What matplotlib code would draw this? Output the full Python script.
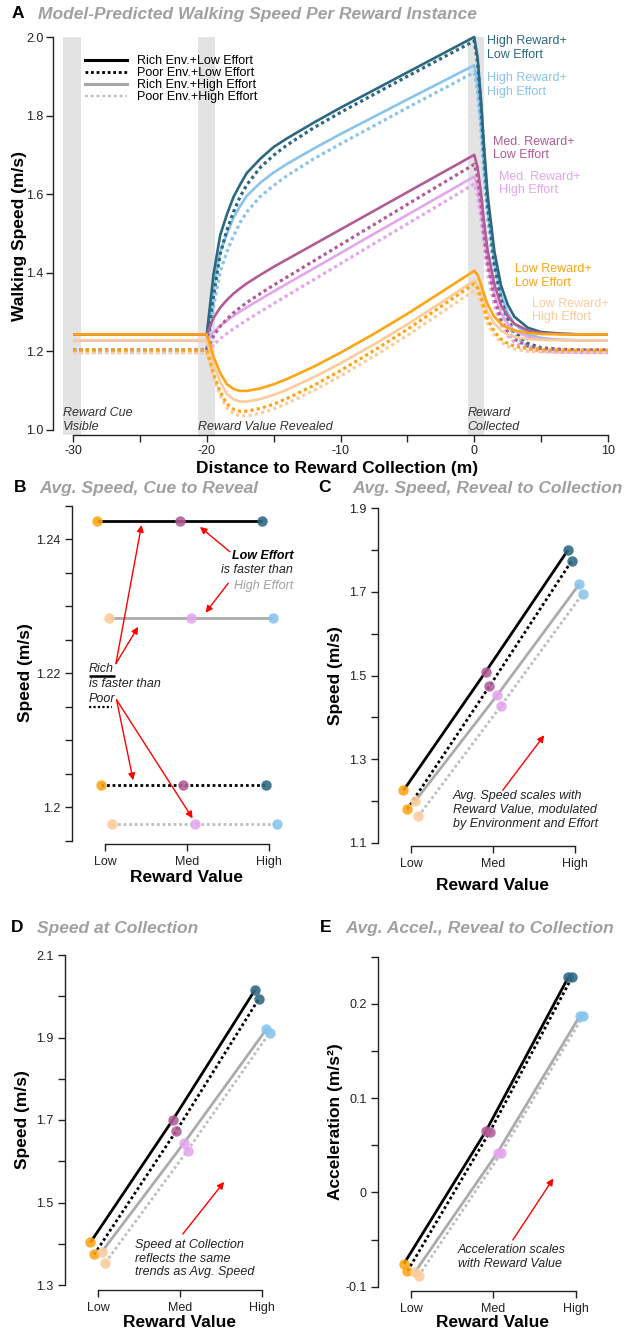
import matplotlib
matplotlib.use('Agg')
import matplotlib.pyplot as plt
from matplotlib.lines import Line2D
import numpy as np

plt.rcParams['font.family'] = ['Liberation Sans', 'DejaVu Sans']

# ---------------- data ----------------
# Panel A: model-predicted walking speed (m/s) vs distance to reward collection (m)
distance = [-30, -20, -19.5, -19, -18.5, -18, -17.5, -17, -16, -15, -14, -12, -10, -7.5, -5, -2.5, 0,
            0.25, 0.5, 0.75, 1, 1.5, 2, 2.5, 3, 4, 5, 6.5, 8, 10]

high_rich_low = [1.243, 1.243, 1.395, 1.495, 1.548, 1.593, 1.625, 1.654, 1.690, 1.720, 1.742, 1.782, 1.820, 1.865, 1.910, 1.955, 2.000,
                 1.947, 1.841, 1.712, 1.599, 1.455, 1.368, 1.319, 1.288, 1.260, 1.249, 1.245, 1.243, 1.243]
high_poor_low = [1.203, 1.203, 1.340, 1.447, 1.508, 1.555, 1.594, 1.624, 1.668, 1.699, 1.725, 1.769, 1.808, 1.854, 1.900, 1.945, 1.990,
                 1.935, 1.825, 1.691, 1.573, 1.423, 1.333, 1.282, 1.250, 1.220, 1.209, 1.205, 1.203, 1.203]
high_rich_high = [1.228, 1.228, 1.363, 1.452, 1.499, 1.540, 1.570, 1.596, 1.629, 1.655, 1.677, 1.716, 1.753, 1.797, 1.841, 1.8845, 1.928,
                  1.879, 1.781, 1.662, 1.557, 1.424, 1.344, 1.298, 1.270, 1.243, 1.234, 1.229, 1.228, 1.228]
high_poor_high = [1.197, 1.197, 1.312, 1.402, 1.453, 1.494, 1.528, 1.555, 1.594, 1.622, 1.647, 1.690, 1.728, 1.774, 1.820, 1.865, 1.910,
                  1.860, 1.760, 1.639, 1.532, 1.397, 1.315, 1.268, 1.240, 1.213, 1.203, 1.198, 1.197, 1.197]
med_rich_low = [1.243, 1.243, 1.2845, 1.311, 1.3305, 1.347, 1.3605, 1.373, 1.3945, 1.415, 1.434, 1.472, 1.510, 1.5575, 1.605, 1.6525, 1.700,
                1.668, 1.604, 1.526, 1.458, 1.371, 1.318, 1.289, 1.270, 1.253, 1.247, 1.244, 1.243, 1.243]
med_poor_low = [1.203, 1.203, 1.239, 1.2635, 1.282, 1.298, 1.3116, 1.3242, 1.3468, 1.3685, 1.389, 1.430, 1.471, 1.5225, 1.574, 1.625, 1.676,
                1.643, 1.577, 1.496, 1.425, 1.335, 1.281, 1.250, 1.231, 1.213, 1.207, 1.204, 1.203, 1.203]
med_rich_high = [1.228, 1.228, 1.249, 1.2648, 1.2781, 1.2902, 1.3014, 1.3121, 1.3325, 1.3525, 1.372, 1.411, 1.450, 1.499, 1.5475, 1.596, 1.645,
                 1.616, 1.557, 1.487, 1.424, 1.345, 1.297, 1.270, 1.253, 1.237, 1.231, 1.229, 1.228, 1.228]
med_poor_high = [1.197, 1.197, 1.2169, 1.232, 1.2452, 1.2574, 1.2687, 1.2797, 1.3007, 1.3215, 1.3418, 1.3824, 1.423, 1.474, 1.5245, 1.575, 1.626,
                 1.596, 1.536, 1.463, 1.399, 1.317, 1.268, 1.240, 1.223, 1.206, 1.200, 1.198, 1.197, 1.197]
low_rich_low = [1.243, 1.243, 1.1868, 1.1446, 1.1164, 1.1042, 1.099, 1.0992, 1.1055, 1.116, 1.1295, 1.161, 1.1965, 1.2445, 1.2955, 1.350, 1.405,
                1.394, 1.371, 1.343, 1.319, 1.288, 1.270, 1.259, 1.253, 1.247, 1.244, 1.243, 1.243, 1.243]
low_poor_low = [1.203, 1.203, 1.1423, 1.0967, 1.0662, 1.0528, 1.0471, 1.0478, 1.0545, 1.0656, 1.0799, 1.1133, 1.1509, 1.2018, 1.2559, 1.3137, 1.372,
                1.360, 1.337, 1.308, 1.282, 1.250, 1.231, 1.220, 1.213, 1.207, 1.204, 1.203, 1.203, 1.203]
low_rich_high = [1.228, 1.228, 1.1675, 1.122, 1.0914, 1.0779, 1.0718, 1.0721, 1.0785, 1.089, 1.1025, 1.134, 1.1695, 1.2175, 1.2685, 1.3235, 1.380,
                 1.369, 1.348, 1.322, 1.299, 1.271, 1.253, 1.243, 1.237, 1.231, 1.229, 1.228, 1.228, 1.228]
low_poor_high = [1.197, 1.197, 1.1345, 1.0874, 1.0557, 1.0417, 1.0355, 1.0358, 1.0424, 1.0534, 1.0675, 1.1004, 1.1375, 1.1876, 1.2408, 1.2977, 1.355,
                 1.344, 1.322, 1.295, 1.271, 1.241, 1.223, 1.213, 1.206, 1.200, 1.198, 1.197, 1.197, 1.197]

conditions = ['Rich Env.+Low Effort', 'Poor Env.+Low Effort',
              'Rich Env.+High Effort', 'Poor Env.+High Effort']
reward_labels = ['Low', 'Med', 'High']

# Panel B: avg speed, cue to reveal (m/s)
b_rich_low = [1.2427, 1.2427, 1.2427]
b_poor_low = [1.2033, 1.2033, 1.2033]
b_rich_high = [1.2282, 1.2282, 1.2282]
b_poor_high = [1.1975, 1.1975, 1.1975]
# Panel C: avg speed, reveal to collection (m/s)
c_rich_low = [1.225, 1.509, 1.800]
c_poor_low = [1.180, 1.474, 1.774]
c_rich_high = [1.199, 1.453, 1.719]
c_poor_high = [1.163, 1.426, 1.696]
# Panel D: speed at collection (m/s)
d_rich_low = [1.4035, 1.700, 2.015]
d_poor_low = [1.374, 1.674, 1.993]
d_rich_high = [1.381, 1.645, 1.920]
d_poor_high = [1.354, 1.626, 1.912]
# Panel E: avg acceleration, reveal to collection (m/s^2)
e_rich_low = [-0.0759, 0.0652, 0.228]
e_poor_low = [-0.0833, 0.0641, 0.228]
e_rich_high = [-0.084, 0.0423, 0.187]
e_poor_high = [-0.0886, 0.0413, 0.187]

# ---------------- style ----------------
C_LOW, C_LOW_H = '#FDA512', '#FDCB9C'
C_MED, C_MED_H = '#B25C96', '#E3A6EC'
C_HIGH, C_HIGH_H = '#2D6881', '#88C4EC'
TITLE_GRAY = '#A0A0A0'
AX_COL = '#222222'
DOT = (0, (1, 1))

W, H = 626, 1340
fig = plt.figure(figsize=(W / 100, H / 100), dpi=100)


def px_rect(l, t, r, b):
    return [l / W, 1 - b / H, (r - l) / W, (b - t) / H]


def style_axes(ax, pad=3.5):
    for s in ['top', 'right']:
        ax.spines[s].set_visible(False)
    for s in ['left', 'bottom']:
        ax.spines[s].set_color(AX_COL)
        ax.spines[s].set_linewidth(1.0)
    ax.tick_params(which='both', direction='out', length=5, width=1.0,
                   color=AX_COL, labelsize=9, labelcolor=AX_COL, pad=pad)


def panel_title(xl, xt, y, letter, text):
    fig.text(xl / W, 1 - y / H, letter, fontsize=12.5, fontweight='bold',
             va='center', ha='left', color='black')
    fig.text(xt / W, 1 - y / H, text, fontsize=12.5, fontweight='bold',
             style='italic', va='center', ha='left', color=TITLE_GRAY)


# ---------------- Panel A ----------------
axA = fig.add_axes(px_rect(63, 37, 608, 435))
style_axes(axA, pad=2.2)
axA.set_xlim(-30.75, 10)
axA.set_ylim(0.987, 2.0)
for lo, hi in [(-30.75, -29.4), (-20.63, -19.38), (-0.5, 0.7)]:
    axA.axvspan(lo, hi, color='#E3E3E3', lw=0, zorder=0)

curves = [
    (high_poor_high, C_HIGH_H, DOT), (high_rich_high, C_HIGH_H, '-'),
    (high_poor_low, C_HIGH, DOT), (high_rich_low, C_HIGH, '-'),
    (med_poor_high, C_MED_H, DOT), (med_rich_high, C_MED_H, '-'),
    (med_poor_low, C_MED, DOT), (med_rich_low, C_MED, '-'),
    (low_poor_high, C_LOW_H, DOT), (low_rich_high, C_LOW_H, '-'),
    (low_poor_low, C_LOW, DOT), (low_rich_low, C_LOW, '-'),
]
for vals, col, ls in curves:
    lw = 1.9 if ls == '-' else 2.3
    axA.plot(distance, vals, color=col, ls=ls, lw=lw, clip_on=False,
             solid_capstyle='butt', solid_joinstyle='round', zorder=2)

axA.spines['left'].set_position(('outward', 7))
axA.spines['left'].set_bounds(1.0, 2.0)
axA.spines['bottom'].set_bounds(-30, 10)
axA.set_yticks([1.0, 1.2, 1.4, 1.6, 1.8, 2.0])
axA.set_yticklabels(['1.0', '1.2', '1.4', '1.6', '1.8', '2.0'])
axA.set_xticks([-30, -20, -10, 0, 10])
axA.set_xticklabels(['-30', '-20', '-10', '0', '10'])
axA.set_xticks([-25, -15, -5, 5], minor=True)
axA.set_xlabel('Distance to Reward Collection (m)', fontsize=12.5, fontweight='bold')
axA.set_ylabel('Walking Speed (m/s)', fontsize=12.5, fontweight='bold')
axA.xaxis.set_label_coords(0.503, -0.066)
axA.yaxis.set_label_coords(-0.066, 0.5)

leg_handles = [Line2D([], [], color='black', lw=2.2, ls='-'),
               Line2D([], [], color='black', lw=2.0, ls=DOT),
               Line2D([], [], color='#A5A5A5', lw=2.2, ls='-'),
               Line2D([], [], color='#BDBDBD', lw=1.6, ls=(0, (1.3, 1.3)))]
axA.legend(leg_handles, conditions, loc='upper left', bbox_to_anchor=(0.040, 0.955),
           frameon=False, fontsize=9, handlelength=3.4, handletextpad=0.8,
           labelspacing=0.0, borderpad=0, borderaxespad=0)

ital = dict(fontsize=9, style='italic', color='#333333', linespacing=1.15)
axA.text(-30.75, 0.993, 'Reward Cue\nVisible', ha='left', va='bottom', **ital)
axA.text(-20.63, 0.993, 'Reward Value Revealed', ha='left', va='bottom', **ital)
axA.text(-0.5, 0.993, 'Reward\nCollected', ha='left', va='bottom', **ital)

lab = dict(fontsize=9, ha='left', va='center', linespacing=1.2)
axA.text(0.95, 1.971, 'High Reward+\nLow Effort', color=C_HIGH, **lab)
axA.text(0.95, 1.877, 'High Reward+\nHigh Effort', color=C_HIGH_H, **lab)
axA.text(1.4, 1.716, 'Med. Reward+\nLow Effort', color=C_MED, **lab)
axA.text(1.85, 1.627, 'Med. Reward+\nHigh Effort', color=C_MED_H, **lab)
axA.text(3.05, 1.392, 'Low Reward+\nLow Effort', color=C_LOW, **lab)
axA.text(4.3, 1.304, 'Low Reward+\nHigh Effort', color=C_LOW_H, **lab)

panel_title(12, 38, 14, 'A', 'Model-Predicted Walking Speed Per Reward Instance')

# ---------------- scatter panels ----------------
offsets = [-0.09, -0.045, 0.05, 0.09]
line_styles = [('black', '-'), ('black', DOT), ('#ABABAB', '-'), ('#BEBEBE', DOT)]
marker_cols = [[C_LOW, C_MED, C_HIGH], [C_LOW, C_MED, C_HIGH],
               [C_LOW_H, C_MED_H, C_HIGH_H], [C_LOW_H, C_MED_H, C_HIGH_H]]


def scatter_panel(rect, series, ylim, majors, major_labels, minors, bottom_off,
                  ylabel, xlab_y):
    ax = fig.add_axes(px_rect(*rect))
    style_axes(ax)
    ax.set_xlim(-0.4, 2.3)
    ax.set_ylim(*ylim)
    for i, vals in enumerate(series):
        xs = np.arange(3) + offsets[i]
        col, ls = line_styles[i]
        ax.plot(xs, vals, color=col, ls=ls, lw=2.0, zorder=2, solid_capstyle='butt')
        for j in range(3):
            ax.plot(xs[j], vals[j], 'o', ms=7.5, mew=0, color=marker_cols[i][j],
                    alpha=0.88, zorder=3, clip_on=False)
    ax.spines['bottom'].set_position(('outward', bottom_off))
    ax.spines['bottom'].set_bounds(0, 2)
    ax.spines['left'].set_bounds(*ylim)
    ax.set_xticks([0, 1, 2])
    ax.set_xticklabels(reward_labels)
    ax.set_yticks(majors)
    ax.set_yticklabels(major_labels)
    ax.set_yticks(minors, minor=True)
    ax.set_xlabel('Reward Value', fontsize=12.5, fontweight='bold')
    ax.set_ylabel(ylabel, fontsize=12.5, fontweight='bold')
    ax.yaxis.set_label_coords(-0.16, 0.5)
    ax.xaxis.set_label_coords(0.515, xlab_y)
    return ax


# Panel B
axB = scatter_panel((72, 505.5, 294, 840.5), [b_rich_low, b_poor_low, b_rich_high, b_poor_high],
                    (1.195, 1.245), [1.20, 1.22, 1.24], ['1.2', '1.22', '1.24'],
                    [1.195, 1.205, 1.21, 1.215, 1.225, 1.23, 1.235, 1.245], 2.5,
                    'Speed (m/s)', -0.088)
axB.yaxis.set_label_coords(-0.176, 0.5)
panel_title(14, 39, 488, 'B', 'Avg. Speed, Cue to Reveal')

arrow = dict(arrowstyle='-|>', color='#FF0000', lw=1.0, mutation_scale=10,
             shrinkA=0, shrinkB=0)
axB.text(2.29, 1.2375, 'Low Effort', ha='right', va='center', fontsize=9,
         style='italic', fontweight='bold', color='black')
axB.text(2.29, 1.2353, 'is faster than', ha='right', va='center', fontsize=9,
         style='italic', color='#222222')
axB.text(2.29, 1.2330, 'High Effort', ha='right', va='center', fontsize=9,
         style='italic', color='#A0A0A0')
axB.annotate('', xy=(1.156, 1.2418), xytext=(1.52, 1.2381), arrowprops=arrow)
axB.annotate('', xy=(1.225, 1.2290), xytext=(1.50, 1.2334), arrowprops=arrow)
axB.text(-0.198, 1.2206, 'Rich', ha='left', va='center', fontsize=9, style='italic', color='#222222')
axB.text(-0.198, 1.2184, 'is faster than', ha='left', va='center', fontsize=9, style='italic', color='#222222')
axB.text(-0.198, 1.2161, 'Poor', ha='left', va='center', fontsize=9, style='italic', color='#222222')
axB.plot([-0.198, 0.12], [1.2196, 1.2196], color='black', lw=1.8, solid_capstyle='butt')
axB.plot([-0.198, 0.09], [1.2150, 1.2150], color='black', lw=1.6, ls=DOT)
axB.annotate('', xy=(0.446, 1.2421), xytext=(0.134, 1.2214), arrowprops=arrow)
axB.annotate('', xy=(0.405, 1.2269), xytext=(0.134, 1.2214), arrowprops=arrow)
axB.annotate('', xy=(0.344, 1.2040), xytext=(0.142, 1.2160), arrowprops=arrow)
axB.annotate('', xy=(1.067, 1.1983), xytext=(0.142, 1.2160), arrowprops=arrow)

# Panel C
axC = scatter_panel((378, 508.3, 600, 842.7), [c_rich_low, c_poor_low, c_rich_high, c_poor_high],
                    (1.1, 1.9), [1.1, 1.3, 1.5, 1.7, 1.9], ['1.1', '1.3', '1.5', '1.7', '1.9'],
                    [1.2, 1.4, 1.6, 1.8], 2.5, 'Speed (m/s)', -0.105)
axC.yaxis.set_label_coords(-0.158, 0.5)
panel_title(318, 352, 488, 'C', 'Avg. Speed, Reveal to Collection')
axC.annotate('', xy=(1.622, 1.357), xytext=(1.116, 1.2253), arrowprops=arrow)
axC.text(0.507, 1.2253, 'Avg. Speed scales with\nReward Value, modulated\nby Environment and Effort',
         ha='left', va='top', fontsize=9, style='italic', color='#222222', linespacing=1.18)

# Panel D
axD = scatter_panel((65, 955, 287, 1285), [d_rich_low, d_poor_low, d_rich_high, d_poor_high],
                    (1.3, 2.1), [1.3, 1.5, 1.7, 1.9, 2.1], ['1.3', '1.5', '1.7', '1.9', '2.1'],
                    [1.4, 1.6, 1.8, 2.0], 3.6, 'Speed (m/s)', -0.09)
axD.yaxis.set_label_coords(-0.158, 0.5)
panel_title(11, 37, 928, 'D', 'Speed at Collection')
axD.annotate('', xy=(1.535, 1.550), xytext=(1.033, 1.4236), arrowprops=arrow)
axD.text(0.453, 1.411, 'Speed at Collection\nreflects the same\ntrends as Avg. Speed',
         ha='left', va='top', fontsize=9, style='italic', color='#222222', linespacing=1.18)

# Panel E
axE = scatter_panel((378.3, 956.7, 600.3, 1286.7), [e_rich_low, e_poor_low, e_rich_high, e_poor_high],
                    (-0.1, 0.25), [-0.1, 0.0, 0.1, 0.2], ['-0.1', '0', '0.1', '0.2'],
                    [-0.05, 0.05, 0.15, 0.25], 2.9, 'Acceleration (m/s²)', -0.085)
axE.yaxis.set_label_coords(-0.159, 0.5)
panel_title(320, 345, 928, 'E', 'Avg. Accel., Reveal to Collection')
axE.annotate('', xy=(1.729, 0.0148), xytext=(1.236, -0.0505), arrowprops=arrow)
axE.text(0.567, -0.0552, 'Acceleration scales\nwith Reward Value',
         ha='left', va='top', fontsize=9, style='italic', color='#222222', linespacing=1.18)

fig.savefig('out.png', dpi=100)
